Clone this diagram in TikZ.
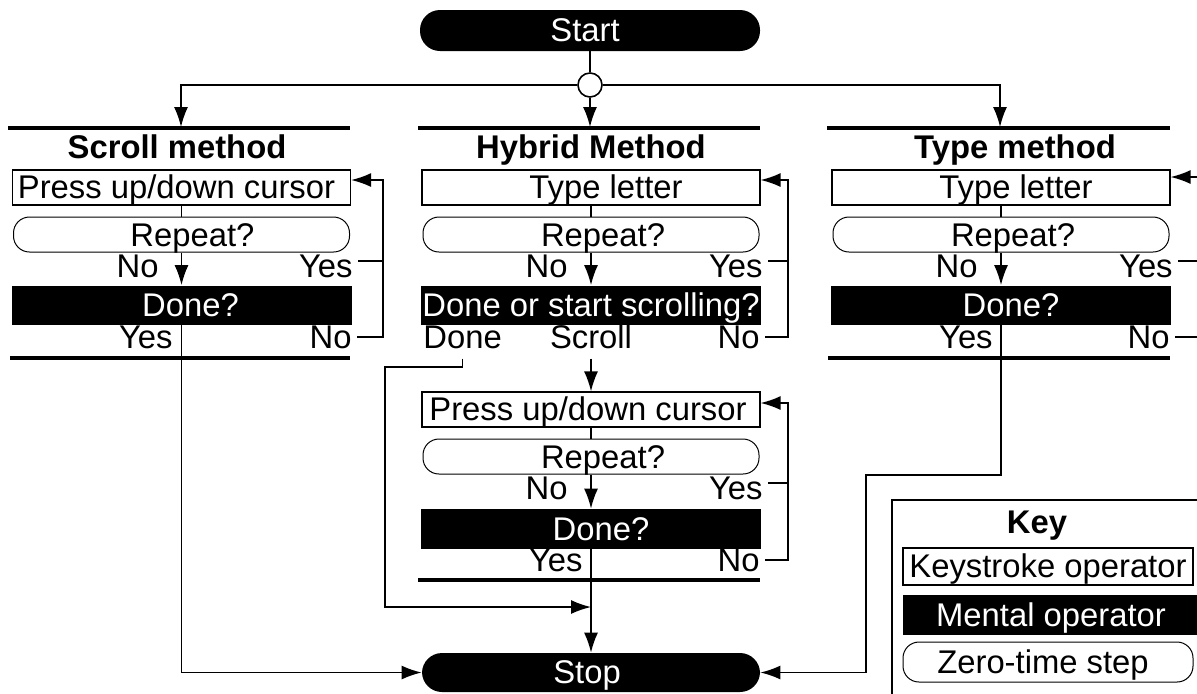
\documentclass[tikz,border=0pt]{standalone}
\usepackage{fontspec}
\setmainfont{Liberation Sans}
\usetikzlibrary{arrows.meta}
\newcommand\diafont{\fontsize{16.4}{19}\selectfont}
\begin{document}
\begin{tikzpicture}[x=0.5pt,y=-0.5pt,
  every node/.style={font=\diafont},
  kbox/.style={draw, line width=0.6pt, minimum width=169pt, minimum height=17.5pt, inner sep=0pt, text height=12.4pt, text depth=1.2pt},
  zbox/.style={draw, line width=0.5pt, rounded corners=8pt, minimum width=168pt, minimum height=17.5pt, inner sep=0pt, text height=12.4pt, text depth=0.6pt},
  mbox/.style={fill=black, text=white, minimum width=170pt, minimum height=19.5pt, inner sep=0pt, text height=12.4pt, text depth=1.2pt},
  pillbox/.style={fill=black, text=white, rounded corners=10pt, minimum width=170pt, minimum height=20.5pt, inner sep=0pt, text height=12.4pt, text depth=1.2pt},
  lbl/.style={inner sep=0pt, anchor=base east},
  hd/.style={font=\diafont\bfseries, inner sep=0pt, anchor=base},
  ln/.style={line width=0.8pt},
  rulel/.style={line width=1.6pt},
  arr/.style={ln, -{Latex[length=10pt,width=7pt]}},
]
\useasboundingbox (0,0) rectangle (1197,693);

% ---------- top ----------
\node[pillbox] (start) at (590,30.5) {Start\kern5pt};
\node[circle, draw, line width=0.8pt, fill=white, minimum size=12pt, inner sep=0pt] (circ) at (590,85) {};
\coordinate (lh) at (181,127);
\coordinate (mh) at (590,127);
\coordinate (rh) at (1000,127);
\draw[ln] (start.south) -- (circ.north);
\draw[arr] (circ.west) -| (lh);
\draw[arr] (circ.east) -| (rh);
\draw[arr] (circ.south) -- (mh);

% heading rules and titles
\draw[rulel] (8,128) -- (350,128);
\draw[rulel] (418,128) -- (760,128);
\draw[rulel] (827,128) -- (1170,128);
\node[hd] (lhd) at (177,158) {Scroll method};
\node[hd] (mhd) at (591,158) {Hybrid Method};
\node[hd] (rhd) at (1015,158) {Type method};

% ---------- Scroll method ----------
\node[kbox] (lkey) at (181.5,187.5) {Press up/down cursor\kern5pt};
\node[zbox] (lrep) at (181.5,234.5) {\kern11pt Repeat?};
\node[mbox] (ldone) at (181.5,305) {\kern9pt Done?};
\node[lbl] (lno1) at (159,277) {No};
\node[lbl] (lyes1) at (353,277) {Yes};
\node[lbl] (lyes2) at (173,348) {Yes};
\node[lbl] (lno2) at (352,348) {No};
\draw[rulel] (10,358) -- (350,358);
\draw[ln] (lkey.south) -- (lrep.north);
\draw[arr] (lrep.south) -- (ldone.north);
\coordinate (lloop) at (383,180);
\draw[ln, shorten <=2.5pt] ([yshift=2.5pt]lyes1.east) -- ([yshift=2.5pt]lyes1.east -| lloop);
\draw[arr, shorten <=2.5pt] (lno2.east) -| (lloop) -- (lloop -| lkey.east);

% ---------- Hybrid method (upper) ----------
\node[kbox] (hkey) at (591,187.5) {\kern15pt Type letter};
\node[zbox] (hrep) at (591,234.5) {\kern12pt Repeat?};
\node[mbox] (hdone) at (591,305) {Done or start scrolling?};
\node[lbl] (hno1) at (568,277) {No};
\node[lbl] (hyes1) at (763,277) {Yes};
\node[lbl, anchor=base west] (hdn) at (423,348) {Done};
\node[inner sep=0pt, anchor=base] (hsc) at (591,348) {Scroll};
\node[lbl] (hno2) at (760,348) {No};
\draw[ln] (hkey.south) -- (hrep.north);
\draw[arr] (hrep.south) -- (hdone.north);
\coordinate (mloop) at (788,180);
\draw[ln, shorten <=2.5pt] ([yshift=2.5pt]hyes1.east) -- ([yshift=2.5pt]hyes1.east -| mloop);
\draw[arr, shorten <=2.5pt] (hno2.east) -| (mloop) -- (mloop -| hkey.east);

% ---------- Hybrid method (lower) ----------
\node[kbox] (hkey2) at (591,409.5) {Press up/down cursor\kern3pt};
\node[zbox] (hrep2) at (591,456.5) {\kern12pt Repeat?};
\node[mbox, minimum height=20pt] (hdone2) at (591,529) {\kern10pt Done?};
\node[lbl] (h2no1) at (568,499) {No};
\node[lbl] (h2yes1) at (763,499) {Yes};
\node[lbl] (h2yes2) at (583,571) {Yes};
\node[lbl] (h2no2) at (760,571) {No};
\draw[rulel] (418,580) -- (760,580);
\draw[arr, shorten <=5pt] (hsc.south) -- (hkey2.north);
\draw[ln] (hkey2.south) -- (hrep2.north);
\draw[arr] (hrep2.south) -- (hdone2.north);
\coordinate (mloop2) at (788,403);
\draw[ln, shorten <=2.5pt] ([yshift=2.5pt]h2yes1.east) -- ([yshift=2.5pt]h2yes1.east -| mloop2);
\draw[arr, shorten <=2.5pt] (h2no2.east) -| (mloop2) -- (mloop2 -| hkey2.east);

% ---------- Type method ----------
\node[kbox] (rkey) at (1001,187.5) {\kern15pt Type letter};
\node[zbox] (rrep) at (1001,234.5) {\kern12pt Repeat?};
\node[mbox] (rdone) at (1001,305) {\kern10pt Done?};
\node[lbl] (rno1) at (978,277) {No};
\node[lbl] (ryes1) at (1173,277) {Yes};
\node[lbl] (ryes2) at (993,348) {Yes};
\node[lbl] (rno2) at (1170,348) {No};
\draw[rulel] (828,358) -- (1170,358);
\draw[ln] (rkey.south) -- (rrep.north);
\draw[arr] (rrep.south) -- (rdone.north);
\coordinate (rloop) at (1215,177);
\draw[ln, shorten <=2.5pt] ([yshift=2.5pt]ryes1.east) -- ([yshift=2.5pt]ryes1.east -| rloop);
\draw[ln, shorten <=2.5pt] (rno2.east) -- (rno2.east -| rloop);
\draw[arr] (rloop) -- (rloop -| rkey.east);

% ---------- Stop and routes ----------
\node[pillbox, minimum width=169pt, minimum height=19.5pt] (stop) at (591,672.5) {Stop\kern4pt};
\draw[arr] (ldone.south) |- (stop.west);
\coordinate (rb1) at (1001,475);
\coordinate (rb2) at (866,475);
\draw[arr] (rdone.south) -- (rb1) -- (rb2) |- (stop.east);
\coordinate (dturn) at (385,367);
\coordinate (djoin) at (591,607);
\draw[arr, shorten <=5pt] (hdn.south) |- (dturn) |- (djoin);
\draw[arr] (hdone2.south) -- (stop.north);

% ---------- Key ----------
\draw[ln] (892,705) |- (1210,500);
\node[hd] (keyt) at (1037,533) {Key};
\node[kbox, minimum width=145pt, minimum height=18.5pt] (kk) at (1048,566.5) {Keystroke operator};
\node[mbox, minimum width=148pt, minimum height=20pt] (km) at (1051,615) {Mental operator};
\node[zbox, minimum width=145pt, minimum height=20pt] (kz) at (1048,662) {Zero-time step\kern5pt};
\end{tikzpicture}
\end{document}
